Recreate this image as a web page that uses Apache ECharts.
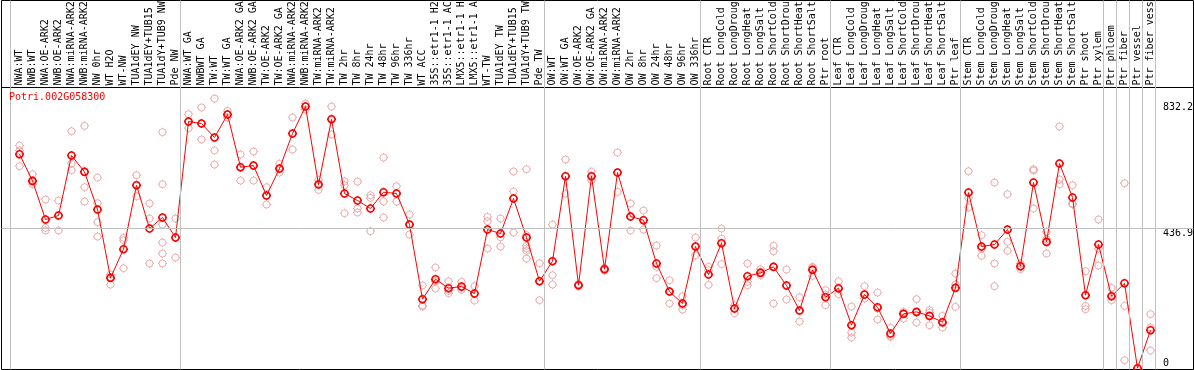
<!DOCTYPE html>
<html>
<head>
<meta charset="utf-8">
<script src="https://cdn.jsdelivr.net/npm/echarts@6/dist/echarts.min.js"></script>
<style>
html, body { margin: 0; padding: 0; background: #fff; }
#data_show { width: 1194px; height: 370px; }
</style>
</head>
<body>
<div id="data_show"></div>
<script>
var gene_name = 'Potri.002G058300';

var sample_names = [
	'NWA:WT', 'NWB:WT', 'NWA:OE-ARK2', 'NWB:OE-ARK2', 'NWA:miRNA-ARK2', 'NWB:miRNA-ARK2',
	'NW 0hr', 'WT H2O', 'WT-NW', 'TUA1dEY NW', 'TUA1dEY+TUB15', 'TUA1dY+TUB9 NW', 'Pde NW',
	'NWA:WT GA', 'NWBWT GA', 'TW:WT', 'TW:WT GA', 'NWA:OE-ARK2 GA', 'NWB:OE-ARK2 GA',
	'TW:OE-ARK2', 'TW:OE-ARK2 GA', 'NWA:miRNA-ARK2 GA', 'NWB:miRNA-ARK2 GA', 'TW:miRNA-ARK2',
	'TW:miRNA-ARK2 GA', 'TW 2hr', 'TW 8hr', 'TW 24hr', 'TW 48hr', 'TW 96hr', 'TW 336hr',
	'WT ACC', '35S::etr1-1 H2O', '35S::etr1-1 ACC', 'LMX5::etr1-1 H2O', 'LMX5::etr1-1 ACC',
	'WT-TW', 'TUA1dEY TW', 'TUA1dEY+TUB15', 'TUA1dY+TUB9 TW', 'Pde TW',
	'OW:WT', 'OW:WT GA', 'OW:OE-ARK2', 'OW:OE-ARK2 GA', 'OW:miRNA-ARK2', 'OW:miRNA-ARK2 GA',
	'OW 2hr', 'OW 8hr', 'OW 24hr', 'OW 48hr', 'OW 96hr', 'OW 336hr',
	'Root CTR', 'Root LongCold', 'Root LongDrought', 'Root LongHeat', 'Root LongSalt',
	'Root ShortCold', 'Root ShortDrought', 'Root ShortHeat', 'Root ShortSalt', 'Ptr root',
	'Leaf CTR', 'Leaf LongCold', 'Leaf LongDrought', 'Leaf LongHeat', 'Leaf LongSalt',
	'Leaf ShortCold', 'Leaf ShortDrought', 'Leaf ShortHeat', 'Leaf ShortSalt', 'Ptr leaf',
	'Stem CTR', 'Stem LongCold', 'Stem LongDrought', 'Stem LongHeat', 'Stem LongSalt',
	'Stem ShortCold', 'Stem ShortDrought', 'Stem ShortHeat', 'Stem ShortSalt',
	'Ptr shoot', 'Ptr xylem', 'Ptr phloem', 'Ptr fiber', 'Ptr vessel', 'Ptr fiber vessel'
];

//mean expression per sample
var mean_values = [
	669.2, 585.8, 464.9, 477.4, 665.0, 613.9, 496.1, 282.5, 372.1, 572.2, 436.9, 471.1, 408.6,
	771.3, 765.0, 721.3, 793.2, 628.5, 633.7, 539.9, 624.3, 733.8, 818.2, 574.3, 778.6,
	546.2, 524.3, 499.3, 550.3, 546.2, 449.2, 215.8, 278.3, 250.2, 255.4, 233.5,
	433.6, 421.1, 530.5, 408.6, 272.0,
	334.6, 600.4, 259.5, 600.4, 309.6, 611.8, 474.2, 462.8, 327.3, 239.7, 202.2, 380.4,
	292.9, 390.9, 186.6, 287.7, 298.1, 316.9, 258.5, 180.3, 307.5, 222.0,
	250.2, 134.5, 230.3, 190.7, 108.4, 169.9, 176.1, 163.6, 143.8, 251.2,
	549.3, 380.4, 386.7, 433.6, 318.9, 580.6, 395.0, 640.0, 533.7,
	228.3, 386.7, 225.1, 265.8, 0, 118.8
];

//replicates per sample
var replicate_values = [
	[696.3, 680.6, 631.6], [606.6, 582.6, 575.3], [527.4, 438.8, 430.5], [524.3, 477.4, 430.5],
	[741.1, 640.0, 619.1], [757.8, 566.0, 521.2], [596.2, 515.9, 456.5, 411.7], [292.9, 284.5, 261.6],
	[407.5, 400.2, 312.7], [603.5, 572.2, 537.8], [514.9, 468.0, 327.3],
	[738.0, 575.3, 449.2, 392.9, 358.6, 327.3], [468.0, 408.6, 346.0],
	[794.2, 771.3, 750.5], [815.1, 715.0], [843.2, 680.6, 636.8], [804.7, 793.2, 783.8],
	[668.1, 628.5, 586.8], [677.5, 633.7, 586.8], [566.0, 539.9, 511.8], [638.9, 622.3, 611.8],
	[783.8, 733.8, 683.7], [827.6, 818.2, 808.8], [588.9, 576.4, 557.6], [818.2, 778.6, 730.7],
	[584.7, 572.2, 484.7], [583.7, 499.3, 486.8], [541.0, 532.6, 428.4], [658.7, 521.2, 471.1],
	[569.1, 546.2, 521.2], [480.5, 449.2, 418.0], [258.5, 196.0, 192.8], [314.8, 272.0, 249.1],
	[272.0, 241.8, 234.5], [270.0, 251.2, 244.9], [256.4, 233.5, 211.6],
	[473.2, 459.7, 374.2], [468.0, 409.6, 380.4], [615.0, 552.4, 424.2],
	[622.3, 415.9, 382.5, 374.2, 366.9, 342.9], [328.3, 272.0, 212.6],
	[449.2, 290.8, 261.6], [652.5, 600.4, 546.2], [262.7, 259.5, 256.4], [613.9, 600.4, 587.9],
	[313.7, 309.6, 305.4], [674.4, 611.8, 551.4], [514.9, 474.2, 430.5], [493.0, 462.8, 433.6],
	[383.6, 316.9, 281.4], [275.2, 239.7, 202.2], [225.1, 197.0, 183.4], [408.6, 380.4, 353.3],
	[316.9, 306.4, 260.6], [436.7, 405.5, 325.2], [197.0, 186.6, 172.0], [327.3, 270.0, 259.5],
	[309.6, 301.2, 290.8], [382.5, 365.8, 202.2], [308.5, 258.5, 214.7], [222.0, 180.3, 145.9],
	[316.9, 313.7, 288.7], [243.9, 230.3, 197.0],
	[272.0, 247.0, 231.4], [192.8, 111.5, 95.9], [256.4, 230.3, 217.8], [236.6, 186.6, 152.2],
	[126.1, 101.1, 98.0], [176.1, 169.9, 155.3], [215.8, 174.1, 142.8], [181.4, 174.1, 134.5],
	[163.6, 140.7, 127.2], [296.0, 261.6, 191.8],
	[616.0, 532.6, 502.4], [415.9, 374.2, 351.3], [580.6, 327.3, 256.4], [544.1, 395.0, 366.9],
	[327.3, 316.9, 309.6], [622.3, 618.1, 499.3], [426.3, 403.4, 358.6], [755.7, 590.0, 575.3],
	[572.2, 514.9, 512.8],
	[303.3, 194.9, 184.5], [464.9, 374.2, 321.0], [251.2, 225.1, 212.6], [578.5, 194.9, 25.0],
	[0], [168.9, 127.2, 55.2]
];

var y_tick_values = [0, 436.9, 832.2];
var mid_line_value = 436.9;
//last sample of each group (a grey separator follows it)
var group_last_index = [12, 40, 52, 62, 72, 83, 84, 85, 86, 87];

//layout in pixels
var frame_left = 1.5, frame_right = 1193.5, frame_top = 0.5, frame_bottom = 369.5;
var first_x = 19.5, step_x = 13;
var zero_y = 368.2, px_per_unit = 0.3198;
var header_h = 87;
var sep_shift = 5 / step_x;

var x_min = (frame_left - first_x) / step_x;
var x_max = (frame_right - first_x) / step_x;
var y_min = -(frame_bottom - zero_y) / px_per_unit;
var y_max = (zero_y - frame_top) / px_per_unit;

//circle with four small ticks, like the original plot marker
var tick_circle = 'path://M8,4.5A3.5,3.5,0,1,1,1,4.5A3.5,3.5,0,1,1,8,4.5Z' +
	'M4.5,0L4.5,1M4.5,8L4.5,9M0,4.5L1,4.5M8,4.5L9,4.5';

var mean_points = [];
var rep_points = [];
var label_positions = [];
for (var i = 0; i < sample_names.length; i++) {
	mean_points.push([i, mean_values[i]]);
	label_positions.push(i);
	for (var j = 0; j < replicate_values[i].length; j++) {
		rep_points.push([i, replicate_values[i][j]]);
	}
}

var sep_lines = [{xAxis: -1 + sep_shift - 1 / step_x}];
for (var k = 0; k < group_last_index.length; k++) {
	sep_lines.push({xAxis: group_last_index[k] + sep_shift});
}
sep_lines.push({yAxis: mid_line_value});

var mono = 'DejaVu Sans Mono';

var chart = echarts.init(document.getElementById('data_show'));
var option = {
	animation: false,
	backgroundColor: '#fff',
	title: {
		text: gene_name,
		left: 9,
		top: 92,
		padding: 0,
		textStyle: {
			color: '#ff0000',
			fontFamily: mono,
			fontSize: 10,
			fontWeight: 'normal'
		}
	},
	grid: {
		left: frame_left,
		right: 1194 - frame_right,
		top: frame_top,
		bottom: 370 - frame_bottom,
		outerBoundsMode: 'none',
		containLabel: false,
		show: true,
		borderColor: '#000',
		borderWidth: 1,
		backgroundColor: 'transparent'
	},
	xAxis: [
		{
			type: 'value',
			min: x_min,
			max: x_max,
			show: false
		},
		{
			type: 'value',
			min: x_min,
			max: x_max,
			position: 'top',
			offset: -header_h,
			axisLine: {show: true, lineStyle: {color: '#000', width: 1}},
			axisTick: {show: false},
			splitLine: {show: false},
			axisLabel: {
				customValues: label_positions,
				rotate: -90,
				align: 'left',
				verticalAlign: 'middle',
				margin: 2,
				color: '#000',
				fontFamily: mono,
				fontSize: 10,
				formatter: function (v) {
					return sample_names[Math.round(v)];
				}
			}
		}
	],
	yAxis: {
		type: 'value',
		min: y_min,
		max: y_max,
		position: 'right',
		axisLine: {show: false},
		axisTick: {show: false},
		splitLine: {show: false},
		axisLabel: {
			customValues: y_tick_values,
			inside: true,
			margin: 30.5,
			align: 'left',
			verticalAlign: 'top',
			verticalAlignMinLabel: 'bottom',
			color: '#000',
			fontFamily: mono,
			fontSize: 10,
			formatter: function (v) {
				return String(v);
			}
		}
	},
	series: [
		{
			name: 'grid',
			type: 'line',
			data: [],
			silent: true,
			markLine: {
				silent: true,
				symbol: ['none', 'none'],
				label: {show: false},
				lineStyle: {color: '#c0c0c0', width: 1, type: 'solid'},
				data: sep_lines
			}
		},
		{
			name: 'replicates',
			type: 'scatter',
			data: rep_points,
			symbol: tick_circle,
			symbolSize: 9,
			symbolKeepAspect: true,
			z: 3,
			itemStyle: {
				color: 'rgba(0,0,0,0)',
				borderColor: '#e89a9a',
				borderWidth: 1
			}
		},
		{
			name: 'mean',
			type: 'line',
			data: mean_points,
			symbol: tick_circle,
			symbolSize: 9,
			symbolKeepAspect: true,
			showAllSymbol: true,
			z: 4,
			lineStyle: {color: '#ff0000', width: 1},
			itemStyle: {
				color: 'rgba(0,0,0,0)',
				borderColor: '#ff0000',
				borderWidth: 1.6
			}
		}
	]
};
chart.setOption(option);
</script>
</body>
</html>
